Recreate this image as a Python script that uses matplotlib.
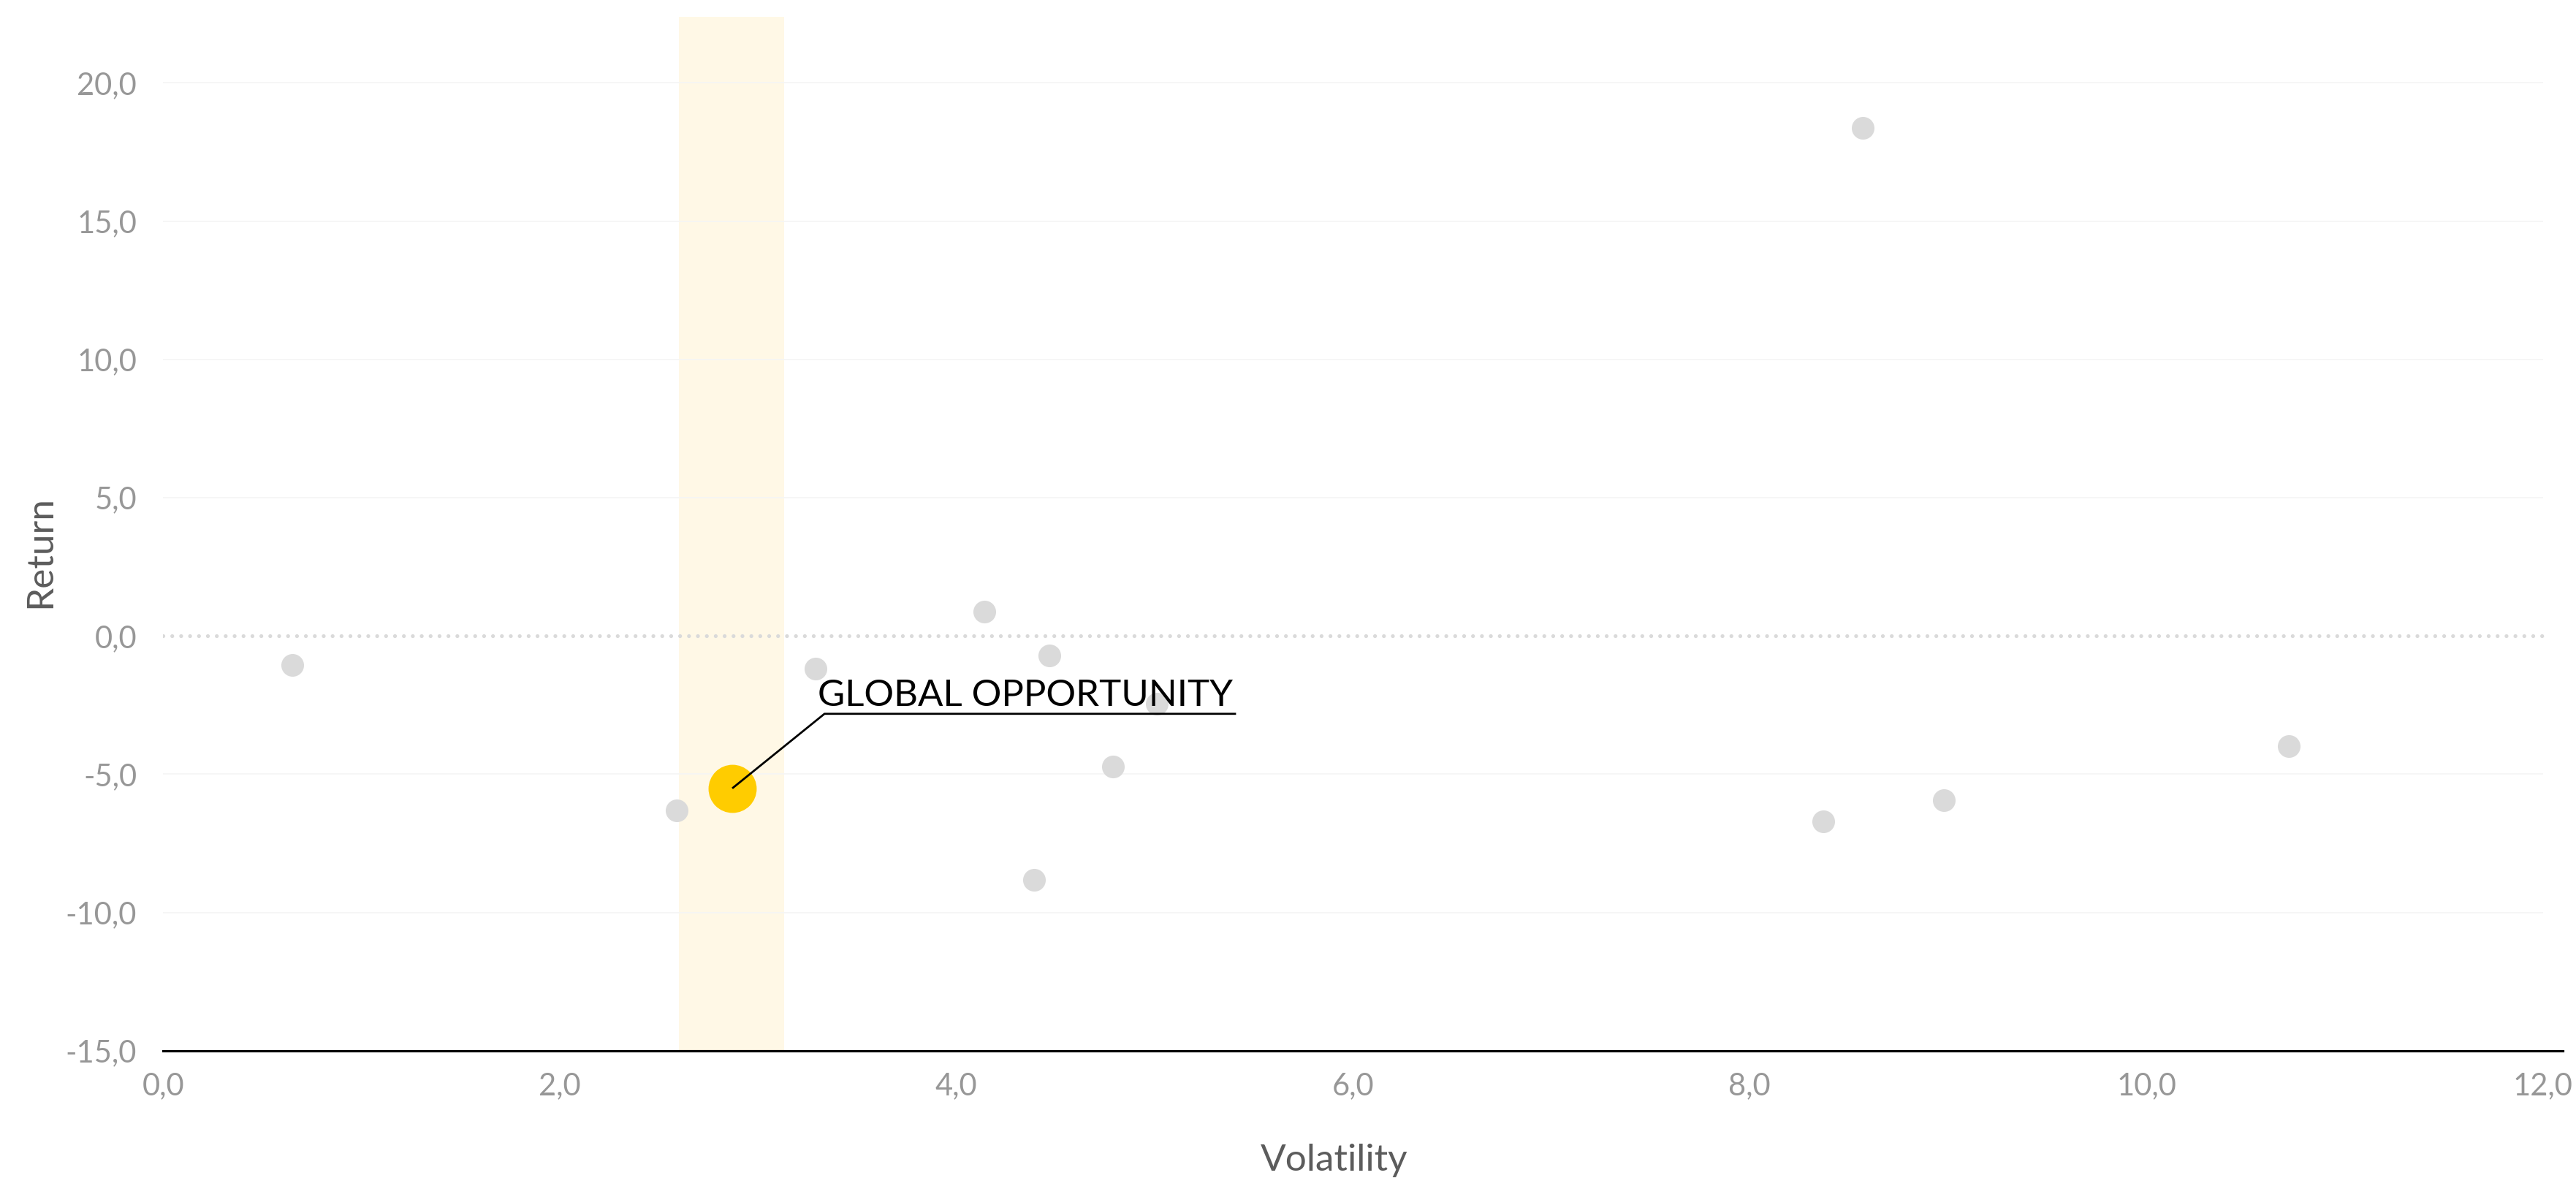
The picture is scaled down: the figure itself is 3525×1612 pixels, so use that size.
import matplotlib
matplotlib.use("Agg")
import matplotlib.pyplot as plt
from matplotlib.ticker import FuncFormatter, MultipleLocator

# funds: volatility (x) vs return (y)
volatility = [0.65, 2.59, 3.29, 4.14, 4.47, 4.79, 4.39, 5.01, 8.57, 8.37, 8.98, 10.72]
returns = [-1.06, -6.31, -1.18, 0.87, -0.71, -4.72, -8.83, -2.45, 18.38, -6.71, -5.94, -3.99]

highlight_name = "GLOBAL OPPORTUNITY"
highlight_vol = 2.87
highlight_ret = -5.51
band_range = (2.60, 3.13)

x_ticks = [0, 2, 4, 6, 8, 10, 12]
y_ticks = [-15, -10, -5, 0, 5, 10, 15, 20]

GRAY = "#dadada"
YELLOW = "#ffcc00"
BAND = "#fff8e6"
TICK_COLOR = "#979797"
LABEL_COLOR = "#5c5c5c"

plt.rcParams["font.family"] = ["Lato", "DejaVu Sans"]


def comma_fmt(v, pos):
    return f"{v:.1f}".replace(".", ",")


def main() -> None:
    fig = plt.figure(figsize=(35.25, 16.12), dpi=100)
    ax = fig.add_axes([0.0633, 0.1080, 0.9316, 0.8780])

    ax.set_xlim(0, 12.1)
    ax.set_ylim(-15, 22.4)

    ax.axvspan(*band_range, color=BAND, zorder=0, lw=0)

    for y in y_ticks:
        if y in (0, -15):
            continue
        ax.hlines(y, 0, 12, color="#f5f5f5", lw=1.2, zorder=1)

    ax.plot([0, 12], [0, 0], color=GRAY, lw=3.8, ls=(0, (0.01, 2.3)),
            dash_capstyle="round", zorder=2)

    ax.scatter(volatility, returns, s=500, color=GRAY, lw=0, zorder=3)
    ax.scatter([highlight_vol], [highlight_ret], s=2250, color=YELLOW, lw=0, zorder=4)

    # label with underline and leader line
    tx, ty = 3.30, -2.53
    ux0, ux1, uy = 3.335, 5.41, -2.815
    label = ax.text(tx, ty, highlight_name, fontsize=35, color="black", ha="left",
                    va="baseline", zorder=6)
    # stretch the label to the width it has in the original (~569 px)
    renderer = fig.canvas.get_renderer()
    w = label.get_window_extent(renderer).width
    label.set_fontsize(35 * 569 / w)
    ax.plot([highlight_vol, ux0, ux1], [highlight_ret, uy, uy], color="black",
            lw=2.0, zorder=5, solid_capstyle="butt")

    for side in ["top", "right", "left"]:
        ax.spines[side].set_visible(False)
    ax.spines["bottom"].set_color("black")
    ax.spines["bottom"].set_linewidth(2.3)
    ax.spines["bottom"].set_zorder(7)

    ax.xaxis.set_major_locator(MultipleLocator(2))
    ax.yaxis.set_major_locator(MultipleLocator(5))
    ax.xaxis.set_major_formatter(FuncFormatter(comma_fmt))
    ax.yaxis.set_major_formatter(FuncFormatter(comma_fmt))
    ax.tick_params(axis="both", length=0, labelsize=30, labelcolor=TICK_COLOR)
    ax.tick_params(axis="x", pad=21)
    ax.tick_params(axis="y", pad=26)

    fig.text(1826 / 3525, 1 - 1602 / 1612, "Volatility", fontsize=37,
             color=LABEL_COLOR, ha="center", va="baseline")
    fig.text(32 / 3525, 1 - 755 / 1612, "Return", fontsize=37, rotation=90,
             color=LABEL_COLOR, ha="left", va="center")

    fig.savefig("out.png", dpi=100, facecolor="white")
    plt.close(fig)


if __name__ == "__main__":
    main()
